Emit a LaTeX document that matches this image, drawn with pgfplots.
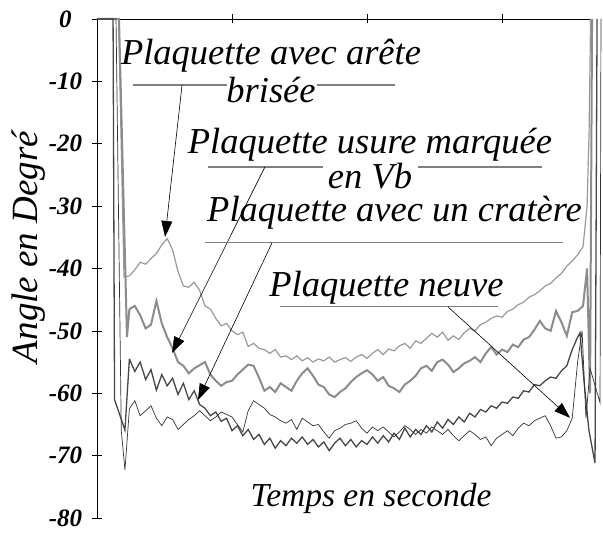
\documentclass[border=0pt]{standalone}
\usepackage{pgfplots}
\pgfplotsset{compat=1.18}
\usepackage{pgfplotstable}
\usepackage{fontspec}
\setmainfont{Liberation Serif}
\usetikzlibrary{arrows.meta}

\definecolor{gclair}{gray}{0.6}
\definecolor{gmoyen}{gray}{0.55}
\definecolor{gfonce}{gray}{0.28}
\definecolor{gnoir}{gray}{0.2}
\definecolor{trait}{gray}{0.5}

% t (s), arete brisee, usure Vb, cratere, neuve
\pgfplotstableread{
t c1 c2 c3 c4
0.24 -41.2 -46.5 -54.5 -62.5
0.28 -40.2 -46.0 -56.5 -61.2
0.32 -39.0 -47.5 -55.0 -63.6
0.36 -39.3 -49.6 -57.8 -62.8
0.40 -38.4 -49.0 -56.2 -62.0
0.44 -37.6 -45.2 -59.5 -64.0
0.48 -36.2 -48.8 -57.0 -65.2
0.52 -35.2 -51.0 -58.8 -63.8
0.56 -37.0 -52.8 -57.6 -64.2
0.60 -40.5 -55.0 -60.2 -65.8
0.64 -42.8 -55.6 -58.4 -65.0
0.68 -43.0 -56.8 -61.0 -64.2
0.72 -42.2 -56.0 -59.6 -63.6
0.76 -43.5 -55.5 -61.8 -62.8
0.80 -46.0 -55.0 -62.4 -63.6
0.84 -46.5 -57.0 -63.6 -64.4
0.88 -48.0 -58.0 -63.0 -63.8
0.92 -49.2 -58.8 -64.5 -63.0
0.96 -48.8 -58.2 -64.0 -63.4
1.00 -50.0 -58.0 -66.0 -63.8
1.04 -50.6 -57.0 -65.2 -65.0
1.08 -50.2 -56.2 -66.8 -66.2
1.12 -52.5 -55.4 -65.8 -62.8
1.16 -52.0 -55.6 -67.4 -61.2
1.20 -52.8 -57.5 -66.6 -61.8
1.24 -53.0 -59.6 -68.2 -62.4
1.28 -53.6 -59.0 -67.2 -63.4
1.32 -53.0 -59.8 -68.8 -63.8
1.36 -54.2 -58.4 -67.6 -64.4
1.40 -54.0 -59.0 -68.4 -64.8
1.44 -54.6 -59.6 -67.2 -64.2
1.48 -54.0 -58.0 -68.0 -65.8
1.52 -54.8 -56.8 -67.0 -64.0
1.56 -54.3 -56.0 -68.2 -64.6
1.60 -55.0 -57.2 -67.4 -65.2
1.64 -54.5 -58.6 -68.6 -65.0
1.68 -54.8 -59.0 -67.8 -66.2
1.72 -54.2 -60.2 -69.2 -67.2
1.76 -55.0 -60.6 -68.0 -66.0
1.80 -54.6 -59.8 -67.2 -65.6
1.84 -54.3 -59.2 -68.4 -65.0
1.88 -54.9 -58.2 -67.4 -64.8
1.92 -54.2 -57.4 -68.6 -64.4
1.96 -53.8 -56.8 -67.6 -65.6
2.00 -54.4 -56.3 -68.2 -66.4
2.04 -53.6 -57.0 -67.0 -65.4
2.08 -53.0 -58.0 -68.0 -66.0
2.12 -53.8 -57.4 -66.8 -65.4
2.16 -52.9 -58.8 -67.8 -66.2
2.20 -53.2 -59.2 -66.4 -67.0
2.24 -52.4 -59.8 -67.4 -66.2
2.28 -52.0 -58.6 -65.6 -65.2
2.32 -52.8 -58.0 -67.0 -65.8
2.36 -51.6 -57.2 -65.8 -66.6
2.40 -52.0 -56.0 -66.6 -65.8
2.44 -51.2 -55.6 -65.2 -66.4
2.48 -50.4 -56.4 -66.2 -65.4
2.52 -51.0 -55.0 -64.6 -66.0
2.56 -50.2 -54.6 -65.6 -66.6
2.60 -51.5 -55.4 -64.2 -65.8
2.64 -50.8 -56.6 -65.0 -66.8
2.68 -51.4 -56.0 -63.8 -67.6
2.72 -50.3 -55.2 -64.6 -66.8
2.76 -49.6 -54.8 -63.2 -66.0
2.80 -50.0 -54.2 -63.8 -66.6
2.84 -49.0 -55.0 -62.6 -67.4
2.88 -48.6 -53.6 -63.0 -67.0
2.92 -48.0 -52.6 -62.0 -68.4
2.96 -47.6 -53.8 -62.4 -67.2
3.00 -47.8 -53.0 -61.4 -66.6
3.04 -46.9 -53.4 -61.6 -66.0
3.08 -46.5 -52.2 -60.6 -66.8
3.12 -45.8 -52.6 -60.8 -65.6
3.16 -45.4 -51.4 -59.6 -64.8
3.20 -44.6 -51.0 -59.8 -65.2
3.24 -44.2 -49.8 -58.6 -64.4
3.28 -43.6 -48.4 -58.8 -64.0
3.32 -42.8 -49.6 -58.0 -63.6
3.36 -42.4 -50.0 -57.4 -65.2
3.40 -41.5 -46.8 -57.6 -67.2
3.44 -40.8 -48.6 -56.4 -67.0
3.48 -39.6 -50.8 -55.6 -66.0
3.52 -38.8 -47.0 -53.0 -64.0
3.56 -37.8 -46.8 -51.0 -55.0
}\mesures

\begin{document}
\begin{tikzpicture}
\begin{axis}[
    scale only axis, width=493pt, height=499pt,
    xmin=0, xmax=3.652, ymin=-80, ymax=0,
    axis x line*=top, axis y line*=left,
    axis line style={black, line width=0.8pt},
    xtick={1,2,3}, xticklabels={},
    ytick={0,-10,-20,-30,-40,-50,-60,-70,-80},
    yticklabels={0,-10,-20,-30,-40,-50,-60,-70,-80},
    tick align=center, major tick length=9pt,
    tick style={black, line width=0.6pt},
    yticklabel style={anchor=center, xshift=-27pt,
        font=\fontsize{25}{25}\selectfont\bfseries\itshape},
    clip=false,
]
% plaquette avec arete brisee
\addplot[gclair, line width=1.2pt] coordinates {(0,0) (0.16,0) (0.2,-41.3) (0.24,-41.2)};
\addplot[gclair, line width=1.2pt] table[x=t, y=c1] {\mesures};
\addplot[gclair, line width=1.2pt] coordinates {(3.56,-37.8) (3.6,-36.5) (3.63,-30) (3.645,-18) (3.656,0)};
% plaquette usure marquee en Vb
\addplot[gmoyen, line width=2pt] coordinates {(0,0) (0.163,0) (0.222,-51) (0.24,-46.5)};
\addplot[gmoyen, line width=2pt] table[x=t, y=c2] {\mesures};
\addplot[gmoyen, line width=2pt] coordinates {(3.56,-46.8) (3.6,-46) (3.63,-40) (3.652,-60) (3.667,0)};
% plaquette avec un cratere
\addplot[gfonce, line width=1.3pt] coordinates {(0,0) (0.119,0) (0.13,-61) (0.207,-65.9) (0.24,-54.5)};
\addplot[gfonce, line width=1.3pt] table[x=t, y=c3] {\mesures};
\addplot[gfonce, line width=1.3pt] coordinates {(3.56,-51.0) (3.578,-50.3) (3.607,-58) (3.644,-66) (3.689,-71.2) (3.704,0)};
% plaquette neuve
\addplot[gnoir, line width=0.7pt] coordinates {(0,0) (0.141,0) (0.18,-66) (0.207,-72.3) (0.24,-62.5)};
\addplot[gnoir, line width=0.7pt] table[x=t, y=c4] {\mesures};
\addplot[gnoir, line width=0.7pt] coordinates {(3.56,-55) (3.593,-50) (3.622,-64) (3.652,-56) (3.726,-61.5) (3.733,0)};

% annotations (two-line nodes: base = last line)
\tikzset{etiq/.style={font=\fontsize{36.5}{36.5}\selectfont\itshape, anchor=base, inner sep=0pt},
         souligne/.style={trait, line width=1.1pt},
         fleche/.style={black, line width=0.6pt, -{Triangle[length=16pt,width=11pt]}}}
\draw[souligne] (axis cs:0.267,-10.58) -- (axis cs:0.963,-10.58);
\draw[souligne] (axis cs:1.630,-10.58) -- (axis cs:2.207,-10.58);
\node[etiq, align=center, font=\fontsize{36.5}{38}\selectfont\itshape] at (axis cs:1.289,-13.46) {Plaquette avec arête\\brisée};
\draw[fleche] (axis cs:0.630,-10.58) -- (axis cs:0.504,-34.94);

\draw[souligne] (axis cs:0.822,-23.72) -- (axis cs:1.674,-23.72);
\draw[souligne] (axis cs:2.378,-23.72) -- (axis cs:3.296,-23.72);
\node[etiq, align=center, font=\fontsize{36.5}{28}\selectfont\itshape] at (axis cs:2.022,-27.1) {Plaquette usure marquée\\en Vb};
\draw[fleche] (axis cs:1.244,-23.72) -- (axis cs:0.556,-53.53);

\draw[souligne] (axis cs:0.8,-35.9) -- (axis cs:3.452,-35.9);
\node[etiq] at (axis cs:2.204,-32.53) {Plaquette avec un cratère};
\draw[fleche] (axis cs:1.296,-35.9) -- (axis cs:0.748,-61.06);

\draw[souligne] (axis cs:1.356,-46.15) -- (axis cs:2.970,-46.15);
\node[etiq] at (axis cs:2.144,-44.55) {Plaquette neuve};
\draw[fleche] (axis cs:2.6,-46.15) -- (axis cs:3.504,-63.94);

\node[font=\fontsize{33.5}{33.5}\selectfont\itshape, anchor=base] at (axis cs:2.030,-78.2) {Temps en seconde};
\node[font=\fontsize{37}{37}\selectfont\itshape, rotate=90, anchor=base] at (axis cs:-0.444,-36.54) {Angle en Degré};

\coordinate (bl) at (axis cs:-0.7185,-82.53);
\coordinate (tr) at (axis cs:3.748,3.045);
\end{axis}
\pgfresetboundingbox
\path[use as bounding box] (bl) rectangle (tr);
\end{tikzpicture}
\end{document}
